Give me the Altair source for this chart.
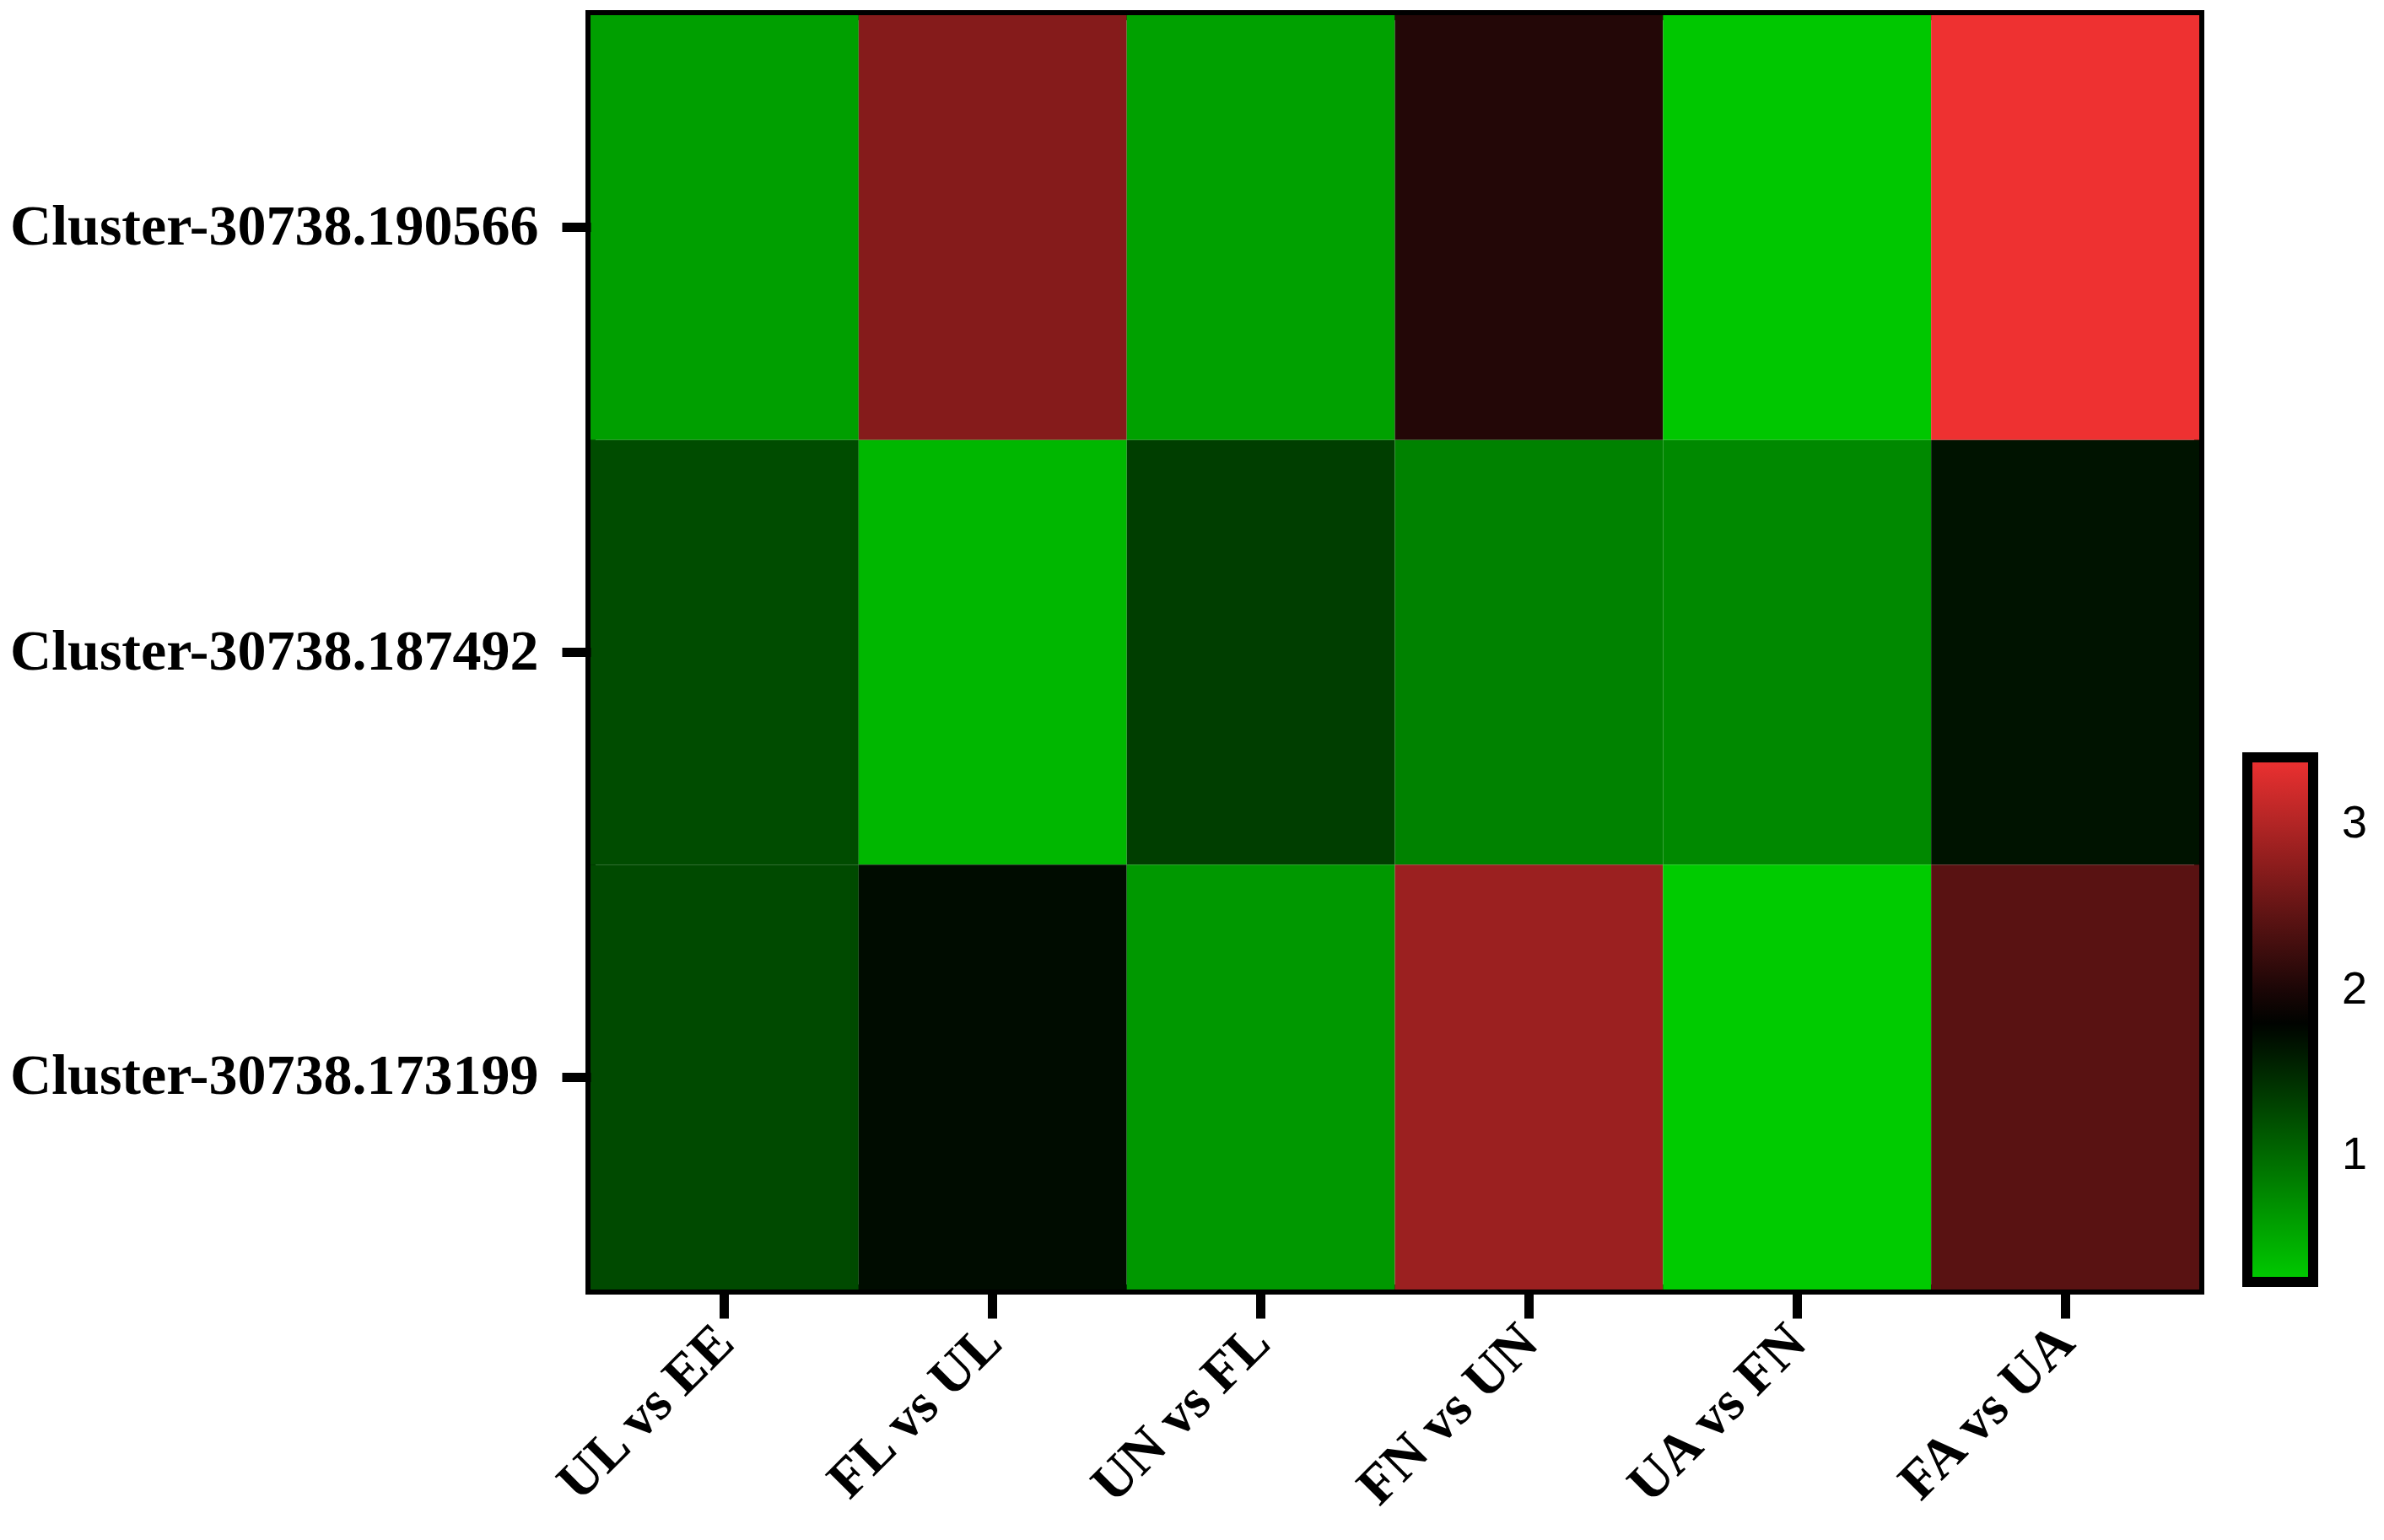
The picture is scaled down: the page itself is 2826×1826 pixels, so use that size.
import altair as alt
import pandas as pd

comparisons = ["UL vs EE", "FL vs UL", "UN vs FL", "FN vs UN", "UA vs FN", "FA vs UA"]
clusters = ["Cluster-30738.190566", "Cluster-30738.187492", "Cluster-30738.173199"]

vals_190566 = [0.59, 2.70, 0.57, 2.05, 0.28, 3.40]
vals_187492 = [1.23, 0.40, 1.34, 0.81, 0.76, 1.67]
vals_173199 = [1.25, 1.73, 0.64, 2.85, 0.25, 2.41]

rows = []
for cl, vals in zip(clusters, [vals_190566, vals_187492, vals_173199]):
    for c, v in zip(comparisons, vals):
        rows.append({"cluster": cl, "comparison": c, "value": v})
df = pd.DataFrame(rows)

chart = alt.Chart(df).mark_rect().encode(
    x=alt.X("comparison:N", sort=comparisons, title=None,
            scale=alt.Scale(paddingInner=0, paddingOuter=0),
            axis=alt.Axis(labelAngle=-45, labelAlign="right", labelBaseline="middle",
                          labelFont="Liberation Serif", labelFontWeight="bold",
                          labelFontSize=65, labelColor="black", labelPadding=18,
                          tickSize=34, tickWidth=11, tickColor="black",
                          domain=False, grid=False)),
    y=alt.Y("cluster:N", sort=clusters, title=None,
            scale=alt.Scale(paddingInner=0, paddingOuter=0),
            axis=alt.Axis(labelFont="Liberation Serif", labelFontWeight="bold",
                          labelFontSize=68, labelColor="black", labelPadding=28,
                          tickSize=34, tickWidth=11, tickColor="black",
                          domain=False, grid=False)),
    color=alt.Color("value:Q",
                    scale=alt.Scale(domain=[0.24, 1.82, 3.4],
                                    range=["#00CC00", "#000000", "#EE3131"],
                                    interpolate="rgb"),
                    legend=alt.Legend(title=None, orient="none", legendX=1964, legendY=880,
                                      gradientLength=622, gradientThickness=78,
                                      gradientStrokeColor="black", gradientStrokeWidth=12,
                                      values=[1, 2, 3], format="d", labelFont="Liberation Sans",
                                      labelFontSize=54, labelColor="black", labelOffset=34,
                                      padding=0, direction="vertical")),
).properties(
    width=1907, height=1511,
    autosize=alt.AutoSizeParams(type="none"),
    padding={"left": 692, "top": 10, "right": 211, "bottom": 289},
).configure_view(
    stroke="black", strokeWidth=12
).configure_axis(
    labelLimit=1000
)

chart.save("out.html", embed_options={"renderer": "svg", "actions": False})
